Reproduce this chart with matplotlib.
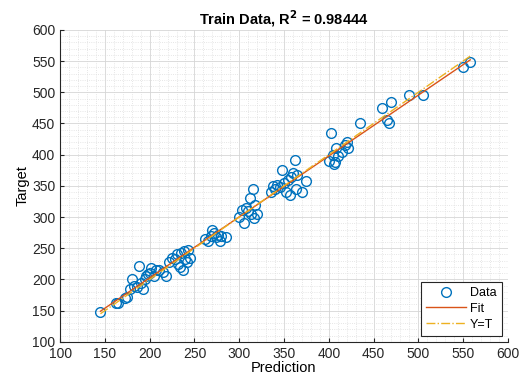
import matplotlib.pyplot as plt
import numpy as np

plt.rcParams['font.family'] = ['Liberation Sans', 'DejaVu Sans']

# Data
pred = [145, 162, 165, 172, 175, 178, 180, 183, 186, 188, 190, 192, 195, 196, 198,
        200, 202, 205, 207, 210, 215, 218, 222, 225, 228, 230, 232, 234, 235, 237,
        238, 240, 242, 243, 245, 262, 265, 268, 270, 272, 274, 276, 278, 280, 285,
        300, 303, 305, 308, 310, 312, 313, 315, 316, 318, 320, 335, 338, 340, 342,
        345, 348, 350, 352, 355, 357, 358, 360, 362, 363, 365, 370, 375, 400, 402,
        405, 406, 407, 408, 410, 415, 418, 420, 422, 435, 460, 465, 467, 470, 490,
        505, 550, 558]
target = [148, 163, 162, 170, 172, 185, 200, 190, 188, 222, 195, 185, 200, 205, 208,
          210, 218, 205, 215, 215, 212, 205, 228, 235, 232, 240, 225, 220, 243, 215,
          245, 232, 228, 248, 235, 265, 262, 270, 280, 275, 268, 272, 262, 270, 268,
          300, 312, 290, 315, 310, 330, 305, 345, 298, 320, 305, 340, 350, 345, 352,
          348, 375, 355, 340, 360, 335, 365, 370, 392, 345, 368, 340, 358, 390, 435,
          400, 385, 388, 410, 398, 405, 415, 420, 410, 450, 475, 455, 450, 485, 495,
          495, 540, 548]

pred = np.array(pred)
target = np.array(target)
coef = np.polyfit(pred, target, 1)
xl = np.array([pred.min(), pred.max()])

fig = plt.figure(figsize=(5.23, 3.74), dpi=100)
ax = fig.add_axes([0.115, 0.086, 0.856, 0.834])

ax.plot(pred, target, 'o', mfc='none', mec='#0072BD', ms=7, mew=1, label='Data')
ax.plot(xl, np.polyval(coef, xl), color='#D95319', lw=1, label='Fit')
ax.plot(xl, xl, color='#EDB120', lw=1, ls='-.', label='Y=T')

ax.set_xlim(100, 600)
ax.set_ylim(100, 600)
ax.set_xticks(np.arange(100, 601, 50))
ax.set_yticks(np.arange(100, 601, 50))
ax.set_xticks(np.arange(100, 601, 10), minor=True)
ax.set_yticks(np.arange(100, 601, 10), minor=True)
ax.grid(which='major', color='#d6d6d6', lw=0.6)
ax.grid(which='minor', color='#dedede', lw=0.6, ls=':')
ax.tick_params(which='major', direction='in', length=3, labelsize=10, colors='#262626')
ax.tick_params(which='minor', length=0)
for s in ['top', 'right']:
    ax.spines[s].set_visible(False)
for s in ['left', 'bottom']:
    ax.spines[s].set_color('#262626')

ax.set_xlabel('Prediction', fontsize=10.5, labelpad=0)
ax.set_ylabel('Target', fontsize=10.5, labelpad=2)
ax.set_title('Train Data, R$^\\mathbf{2}$ = 0.98444', fontsize=10.5, fontweight='bold', pad=4)

leg = ax.legend(loc='lower right', fontsize=9, fancybox=False, edgecolor='#262626',
                framealpha=1, handlelength=3.2, borderaxespad=0.5, labelspacing=0.3,
                borderpad=0.4, handletextpad=0.3)
leg.get_frame().set_linewidth(0.8)

fig.savefig('out.png', dpi=100)
